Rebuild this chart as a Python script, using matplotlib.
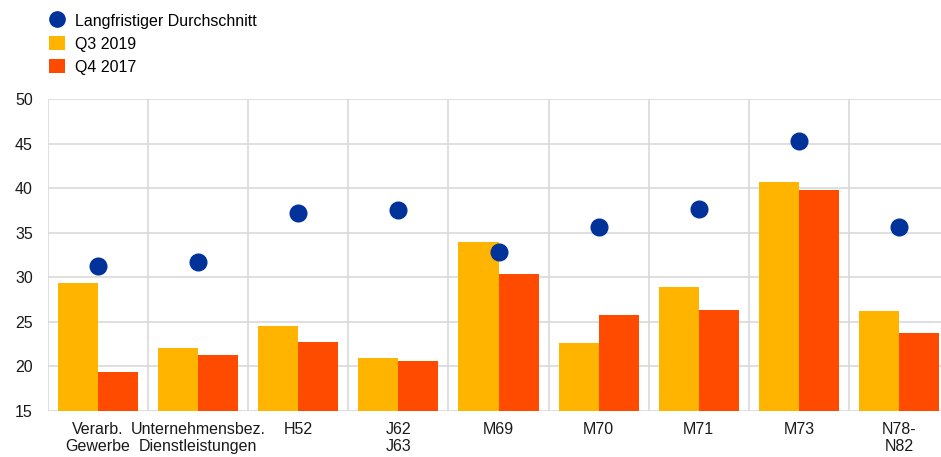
import matplotlib
matplotlib.use("Agg")
import matplotlib.pyplot as plt
from matplotlib.lines import Line2D
from matplotlib.patches import Patch
import numpy as np

plt.rcParams['font.family'] = ['Liberation Sans', 'DejaVu Sans']

categories = ["Verarb.\nGewerbe", "Unternehmensbez.\nDienstleistungen", "H52", "J62\nJ63",
              "M69", "M70", "M71", "M73", "N78-\nN82"]
q3_2019 = [29.3, 22.1, 24.55, 20.9, 33.95, 22.65, 28.85, 40.75, 26.2]
q4_2017 = [19.4, 21.3, 22.75, 20.6, 30.35, 25.75, 26.35, 39.85, 23.7]
long_term_avg = [31.3, 31.7, 37.2, 37.55, 32.85, 35.65, 37.65, 45.3, 35.7]

series_labels = ["Langfristiger Durchschnitt", "Q3 2019", "Q4 2017"]
c_dot = "#003299"
c_q3 = "#FFB400"
c_q4 = "#FF4B00"
grid_c = "#d9d9d9"
txt_c = "#1a1a1a"
fs = 11.5

fig = plt.figure(figsize=(9.41, 4.57), dpi=100)
ax = fig.add_axes([48 / 941, 46.3 / 457, 1 - 48 / 941, 311.4 / 457])

x = np.arange(len(categories))
w = 0.4
ax.bar(x - w / 2, q3_2019, width=w, color=c_q3, zorder=2)
ax.bar(x + w / 2, q4_2017, width=w, color=c_q4, zorder=2)
ax.plot(x, long_term_avg, linestyle="none", marker="o", markersize=12,
        color=c_dot, zorder=3)

ax.set_ylim(15, 50)
ax.set_xlim(-0.5, 8.42)
ax.set_yticks(np.arange(15, 51, 5))
ax.set_xticks(x)
ax.set_xticklabels(categories, fontsize=fs, color=txt_c, linespacing=1.15)
ax.tick_params(axis="both", length=0, labelsize=fs, colors=txt_c)
ax.tick_params(axis="x", pad=8)
ax.tick_params(axis="y", pad=11)

# horizontal grid
for yv in np.arange(15, 51, 5):
    ax.axhline(yv, color=grid_c, linewidth=1.2, zorder=1)
# category separators
for xv in np.arange(-0.5, len(categories), 1.0):
    ax.axvline(xv, color=grid_c, linewidth=1.2, zorder=1)

for s in ax.spines.values():
    s.set_visible(False)

handles = [
    Line2D([0], [0], marker="o", linestyle="none", markersize=11, color=c_dot),
    Patch(facecolor=c_q3),
    Patch(facecolor=c_q4),
]
fig.legend(handles, series_labels, loc="upper left", bbox_to_anchor=(49 / 941, 1 - 13 / 457),
           frameon=False, fontsize=fs, handlelength=1.0, handleheight=1.0,
           handletextpad=0.6, labelspacing=0.46, borderaxespad=0, borderpad=0)

fig.savefig("out.png", dpi=100)
